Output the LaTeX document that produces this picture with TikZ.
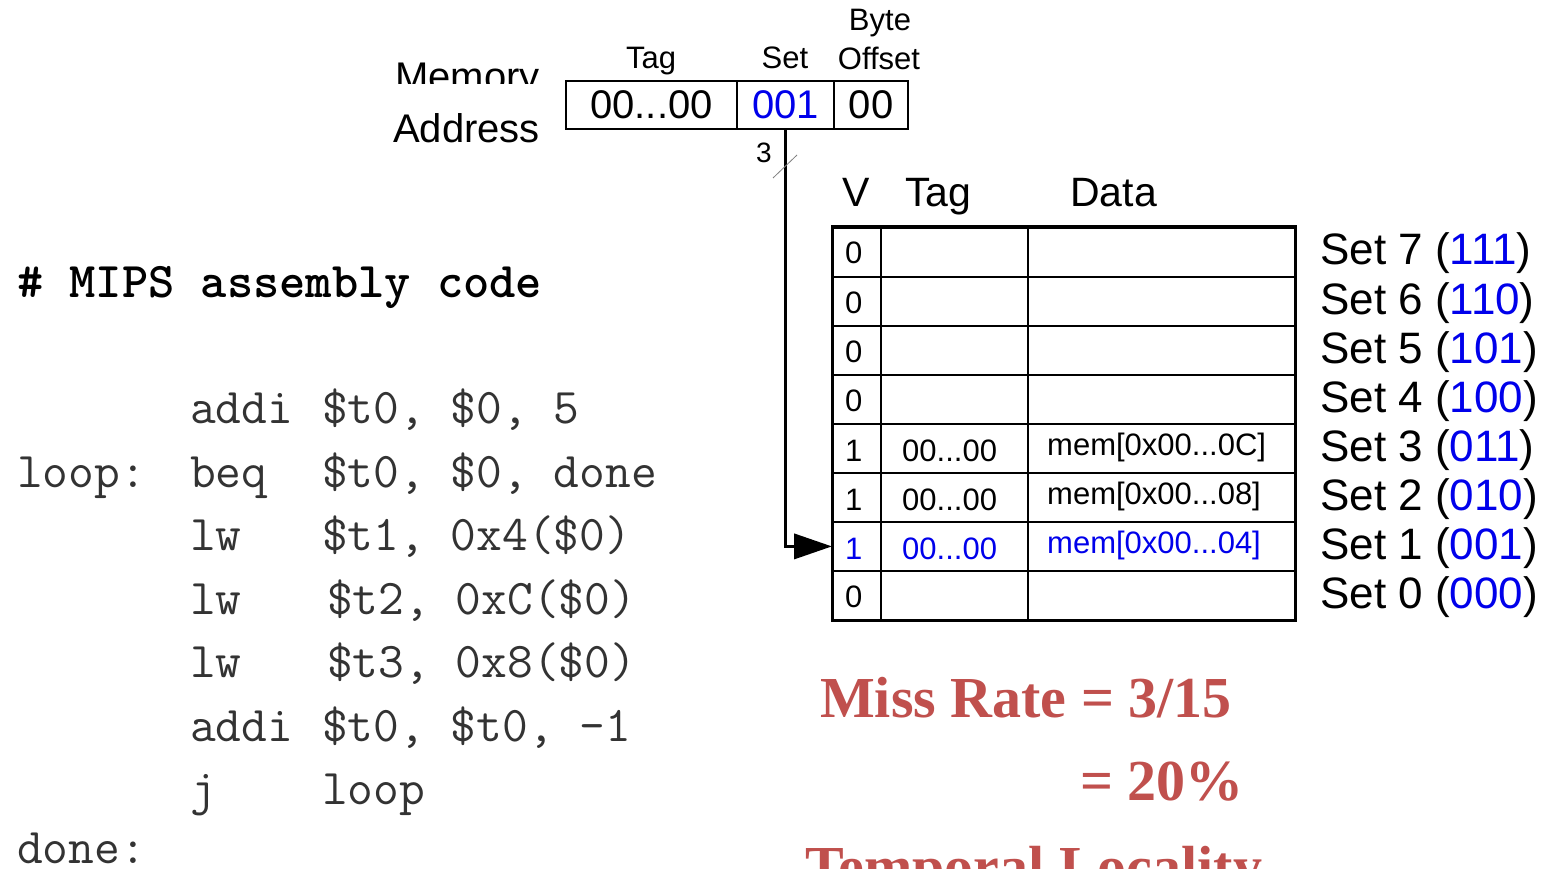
\documentclass[tikz,border=0pt]{standalone}
\usepackage{fontspec}
\setmainfont{Liberation Sans}
\newfontfamily\timesfont{Liberation Serif}
\usetikzlibrary{arrows.meta}
\newcommand\pxsize[1]{\fontsize{#1}{#1}\selectfont}
\definecolor{setblue}{RGB}{0,0,235}
\definecolor{missred}{RGB}{192,80,77}

\begin{document}
\begin{tikzpicture}[x=1pt,y=-1pt,
  txt/.style={inner sep=0pt, anchor=base west},
  ctxt/.style={inner sep=0pt, anchor=base},
  field/.style={draw, line width=1.3pt, inner sep=0pt, minimum height=48pt, font=\pxsize{40}},
  cell/.style={draw, line width=1.8pt, inner sep=0pt, minimum height=49pt, anchor=north west},
  cellfont/.style={font=\pxsize{31}},
  code/.style={txt, font=\ttfamily\pxsize{50}, text=black!80},
  miss/.style={txt, font=\timesfont\bfseries\pxsize{58}, text=missred}]

\fill[white] (0,0) rectangle (1545,869);
\useasboundingbox (0,0) rectangle (1545,869);

% ---- memory address fields ----
\begin{scope}
  \clip (380,0) rectangle (560,84);
  \node[txt, font=\pxsize{40}] (memlbl) at (395,91) {Memory};
\end{scope}
\node[txt, font=\pxsize{40}] (addrlbl) at (393,143) {Address};

\node[field, minimum width=171pt] (tagf) at (651.5,105) {00...00};
\node[field, minimum width=97pt, text=setblue] (setf) at (785.5,105) {001};
\node[field, minimum width=74pt] (offf) at (871,105) {00};

\node[ctxt, font=\pxsize{31}] (taglbl) at (651,69) {Tag};
\node[ctxt, font=\pxsize{31}] (setlbl) at (785,69) {Set};
\node[ctxt, font=\pxsize{31}] (offlbl) at (879,70) {Offset};
\node[ctxt, font=\pxsize{31}] (bytelbl) at (880,31) {Byte};

% ---- cache header ----
\node[txt, font=\pxsize{41}] (hv) at (842,207) {V};
\node[txt, font=\pxsize{41}] (ht) at (905,207) {Tag};
\node[txt, font=\pxsize{41}] (hd) at (1070,207) {Data};

% ---- cache sets ----
\foreach \s/\b in {7/111, 6/110, 5/101, 4/100, 3/011, 2/010, 1/001, 0/000}{
  \pgfmathsetmacro\ytop{227+49*(7-\s)}
  \node[cell, minimum width=48pt] (v\s) at (832,\ytop) {};
  \node[cell, minimum width=147pt] (t\s) at (880,\ytop) {};
  \node[cell, minimum width=267pt] (d\s) at (1027,\ytop) {};
  \node[txt, font=\pxsize{44}] (s\s) at (1320,\ytop+38) {Set \s\ (\textcolor{setblue}{\b})};
}
\foreach \s in {7,6,5,4,0}{
  \pgfmathsetmacro\ytop{227+49*(7-\s)}
  \node[txt, cellfont] (vv\s) at (845,\ytop+37) {0};
}
\foreach \s/\addr in {3/0C, 2/08}{
  \pgfmathsetmacro\ytop{227+49*(7-\s)}
  \node[txt, cellfont] (vv\s) at (845,\ytop+38) {1};
  \node[txt, cellfont] (tt\s) at (902,\ytop+38) {00...00};
  \node[txt, cellfont] (dd\s) at (1047,\ytop+32) {mem[0x00...\addr]};
}
\pgfmathsetmacro\ytop{227+49*6}
\node[txt, cellfont, text=setblue] (vv1) at (845,\ytop+38) {1};
\node[txt, cellfont, text=setblue] (tt1) at (902,\ytop+38) {00...00};
\node[txt, cellfont, text=setblue] (dd1) at (1047,\ytop+32) {mem[0x00...04]};

\draw[line width=3pt] (v7.north west) rectangle (d0.south east);

% ---- set index bus ----
\draw[line width=3.8pt, -{Triangle[length=38pt,width=25pt]}] (setf.south) |- (v1.west);
\coordinate (sl1) at (773,178);
\coordinate (sl2) at (797,155);
\draw[gray, line width=0.8pt] (sl1) -- (sl2);
\node[txt, font=\pxsize{28}] (buswidth) at (756,163) {3};

% ---- assembly code ----
\node[txt, font=\ttfamily\bfseries\pxsize{50}] (title) at (17,298) {\# MIPS assembly code};
\node[code] (op1) at (190,423) {addi};  \node[code] (arg1) at (322,423) {\$t0, \$0, 5};
\node[code] (lbl2) at (17,487) {loop:};
\node[code] (op2) at (190,487) {beq};   \node[code] (arg2) at (322,487) {\$t0, \$0, done};
\node[code] (op3) at (190,550) {lw};    \node[code] (arg3) at (322,550) {\$t1, 0x4(\$0)};
\node[code] (op4) at (190,614) {lw};    \node[code] (arg4) at (327,614) {\$t2, 0xC(\$0)};
\node[code] (op5) at (190,677) {lw};    \node[code] (arg5) at (327,677) {\$t3, 0x8(\$0)};
\node[code] (op6) at (190,741) {addi};  \node[code] (arg6) at (322,741) {\$t0, \$t0, -1};
\node[code] (op7) at (190,804) {j};     \node[code] (arg7) at (322,804) {loop};
\node[code] (lbl8) at (17,863) {done:};

% ---- miss rate ----
\node[miss] (mr1) at (820,717) {Miss Rate = 3/15};
\node[miss] (mr2) at (1080,800) {= 20\%};
\node[miss] (tl) at (805,886) {Temporal Locality};
\end{tikzpicture}
\end{document}
